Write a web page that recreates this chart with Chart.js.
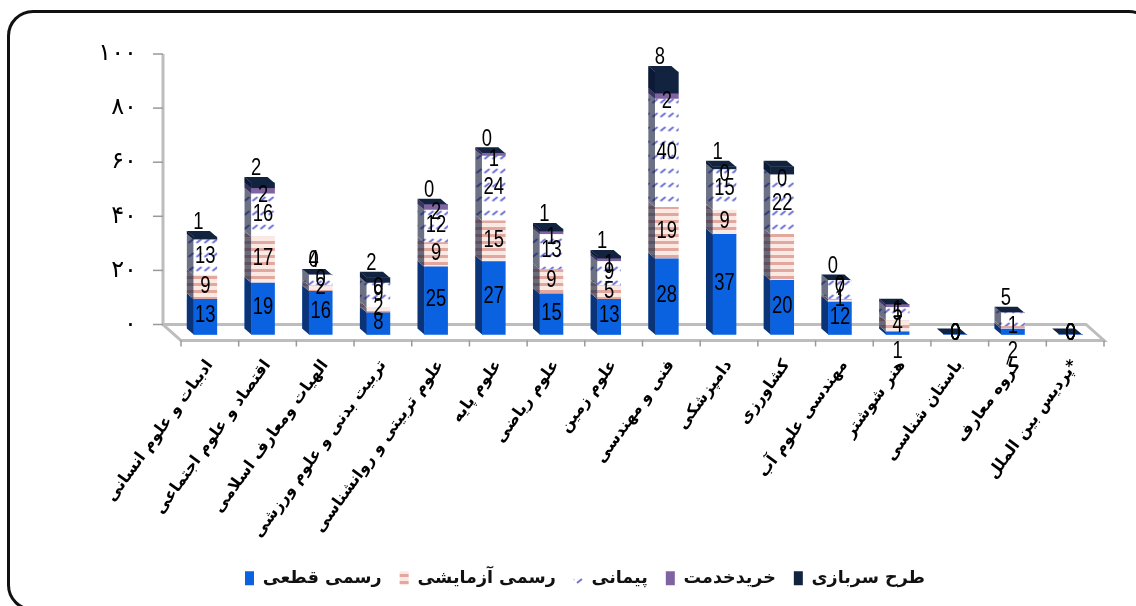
<!DOCTYPE html>
<html>
<head>
<meta charset="utf-8">
<script src="https://cdn.jsdelivr.net/npm/chart.js@4"></script>
<style>
html, body { margin: 0; padding: 0; background: #fff; overflow: hidden; }
#wrap { position: relative; width: 1136px; height: 606px; overflow: hidden; }
#frame { position: absolute; left: 7px; top: 10px; width: 1142px; height: 595px; border: 3px solid #111; border-radius: 26px; pointer-events: none; }
#c { position: absolute; left: 0; top: 0; }
</style>
</head>
<body>
<div id="wrap">
<div id="frame"></div>
<canvas id="c" width="1136" height="606" dir="rtl"></canvas>
</div>
<script>
const categories = [
    'ادبیات و علوم انسانی', 'اقتصاد و علوم اجتماعی', 'الهیات ومعارف اسلامی', 'تربیت بدنی و علوم ورزشی',
    'علوم تربیتی و روانشناسی', 'علوم پایه', 'علوم ریاضی', 'علوم زمین',
    'فنی و مهندسی', 'دامپزشکی', 'کشاورزی', 'مهندسی علوم آب',
    'هنر شوشتر', 'باستان شناسی', 'گروه معارف', '*پردیس بین الملل'
];
const seriesNames = ['رسمی قطعی', 'رسمی آزمایشی', 'پیمانی', 'خریدخدمت', 'طرح سربازی'];
const rasmiGhatei  = [13, 19, 16, 8, 25, 27, 15, 13, 28, 37, 20, 12, 1, 0, 2, 0];
const rasmiAzmayeshi = [9, 17, 2, 2, 9, 15, 9, 5, 19, 9, 17, 1, 4, 0, 1, 0];
const peymani      = [13, 16, 4, 9, 12, 24, 13, 9, 40, 15, 22, 7, 5, 0, 5, 0];
const kharidKhedmat = [0, 2, 0, 0, 2, 1, 1, 1, 2, 0, 0, 0, 1, 0, 0, 0];
const tarhSarbazi  = [1, 2, 0, 2, 0, 0, 1, 1, 8, 1, 3, 0, 0, 0, 0, 0];
const yTicks = {0: '۰', 20: '۲۰', 40: '۴۰', 60: '۶۰', 80: '۸۰', 100: '۱۰۰'};

// labels that the original chart does not show: "category,series"
const noLabel = ['0,3', '10,1', '10,4', '12,4', '14,3', '14,4'];

function stripes() {
    const p = document.createElement('canvas');
    p.width = 4; p.height = 7;
    const g = p.getContext('2d');
    g.fillStyle = '#fbe9e4';
    g.fillRect(0, 0, 4, 7);
    g.fillStyle = '#e2a79e';
    g.fillRect(0, 0, 4, 3);
    return g.createPattern(p, 'repeat');
}

function hatch() {
    const p = document.createElement('canvas');
    p.width = 8; p.height = 14;
    const g = p.getContext('2d');
    g.fillStyle = '#fff';
    g.fillRect(0, 0, 8, 14);
    g.strokeStyle = '#6f73d8';
    g.lineWidth = 2;
    g.beginPath();
    g.moveTo(1, 9); g.lineTo(6, 5);
    g.stroke();
    return g.createPattern(p, 'repeat');
}

const ctx = document.getElementById('c').getContext('2d');
const fills = ['#0a62e0', stripes(), hatch(), '#8064a2', '#11233f'];
const allSeries = [rasmiGhatei, rasmiAzmayeshi, peymani, kharidKhedmat, tarhSarbazi];

const FRONT_DX = -4.5, FRONT_DY = 10;   // bars stand in front of the back wall
const SIDE_DX = 7, SIDE_DY = 6;
const FLOOR_DX = 18, FLOOR_DY = 16;

const bars3d = {
    id: 'bars3d',
    beforeDraw(chart) {
        const c = chart.ctx, a = chart.chartArea, x = chart.scales.x, y = chart.scales.y;
        const wall = a.left - FLOOR_DX;
        c.save();
        c.strokeStyle = '#bdbdbd';
        c.lineWidth = 3;
        c.beginPath();
        c.moveTo(wall, a.top);
        c.lineTo(wall, a.bottom);
        c.lineTo(a.left, a.bottom + FLOOR_DY);
        c.lineTo(a.right, a.bottom + FLOOR_DY);
        c.lineTo(a.right - FLOOR_DX, a.bottom);
        c.lineTo(wall, a.bottom);
        c.stroke();
        c.lineWidth = 1.5;
        c.strokeStyle = '#999';
        y.ticks.forEach(t => {
            const py = y.getPixelForValue(t.value);
            c.beginPath();
            c.moveTo(wall - 10, py);
            c.lineTo(wall, py);
            c.stroke();
        });
        const step = (a.right - a.left) / categories.length;
        for (let i = 0; i <= categories.length; i++) {
            c.beginPath();
            c.moveTo(a.left + i * step, a.bottom + FLOOR_DY);
            c.lineTo(a.left + i * step, a.bottom + FLOOR_DY + 6);
            c.stroke();
        }
        c.restore();
    },
    beforeDatasetsDraw(chart) {
        const c = chart.ctx;
        c.save();
        c.translate(FRONT_DX, FRONT_DY);
        chart.data.datasets.forEach((ds, s) => {
            chart.getDatasetMeta(s).data.forEach(el => {
                const left = el.x - el.width / 2;
                c.beginPath();
                c.moveTo(left, el.y);
                c.lineTo(left - SIDE_DX, el.y - SIDE_DY);
                c.lineTo(left - SIDE_DX, el.base - SIDE_DY);
                c.lineTo(left, el.base);
                c.closePath();
                c.fillStyle = ds.backgroundColor;
                c.fill();
                c.fillStyle = 'rgba(10,20,50,0.6)';
                c.fill();
            });
        });
        const top = chart.getDatasetMeta(4).data;
        top.forEach(el => {
            const left = el.x - el.width / 2, right = el.x + el.width / 2;
            c.beginPath();
            c.moveTo(left, el.y);
            c.lineTo(left - SIDE_DX, el.y - SIDE_DY);
            c.lineTo(right - SIDE_DX, el.y - SIDE_DY);
            c.lineTo(right, el.y);
            c.closePath();
            c.fillStyle = '#11233f';
            c.fill();
        });
    },
    afterDatasetsDraw(chart) {
        const c = chart.ctx;
        c.font = '23px "Liberation Sans"';
        c.fillStyle = '#000';
        c.textAlign = 'center';
        c.textBaseline = 'middle';
        chart.data.datasets.forEach((ds, s) => {
            chart.getDatasetMeta(s).data.forEach((el, i) => {
                if (noLabel.includes(i + ',' + s)) return;
                const total = allSeries.reduce((sum, v) => sum + v[i], 0);
                const above = allSeries.slice(s + 1).reduce((sum, v) => sum + v[i], 0);
                let lx = el.x, ly = (el.y + el.base) / 2 - 1;
                if (total === 0) {
                    ly = el.base - 1;
                } else if (s === 4 || (above === 0 && s === 2 && ds.data[i] < 6)) {
                    ly = el.y - 14;
                    lx = el.x - 7;
                } else if (s === 3) {
                    ly += 6;
                } else if (s === 0 && ds.data[i] <= 2) {
                    ly = el.base + 17;
                }
                // the original digits are tall and narrow
                c.save();
                c.translate(lx, ly);
                c.scale(0.8, 1);
                c.fillText(String(ds.data[i]), 0, 0);
                c.restore();
            });
        });
        c.restore();
    }
};

new Chart(ctx, {
    type: 'bar',
    data: {
        labels: categories,
        datasets: seriesNames.map((name, s) => ({
            label: name,
            data: allSeries[s],
            backgroundColor: fills[s],
            borderWidth: 0,
            barThickness: 23,
            clip: false
        }))
    },
    options: {
        responsive: false,
        animation: false,
        layout: { padding: { top: 54, right: 32, left: 66, bottom: 9 } },
        plugins: {
            tooltip: { enabled: false },
            legend: {
                position: 'bottom',
                labels: {
                    boxWidth: 9,
                    boxHeight: 14,
                    padding: 18,
                    color: '#111',
                    font: { family: '"DejaVu Sans"', size: 17.5, weight: 'bold' }
                }
            }
        },
        scales: {
            x: {
                stacked: true,
                grid: { display: false },
                border: { display: false },
                afterFit: s => { s.height = 227; },
                ticks: {
                    autoSkip: false,
                    minRotation: 54,
                    maxRotation: 54,
                    padding: 24,
                    color: '#000',
                    font: { family: '"DejaVu Sans"', size: 16, weight: 'bold' }
                }
            },
            y: {
                stacked: true,
                min: 0,
                max: 100,
                grid: { display: false, drawTicks: false },
                border: { display: false },
                afterFit: s => { s.width = 115; s.paddingTop = 0; s.paddingBottom = 0; },
                ticks: {
                    stepSize: 20,
                    padding: 44,
                    color: '#000',
                    font: { family: '"DejaVu Sans"', size: 24 },
                    callback: v => yTicks[v]
                }
            }
        }
    },
    plugins: [bars3d]
});
</script>
</body>
</html>
